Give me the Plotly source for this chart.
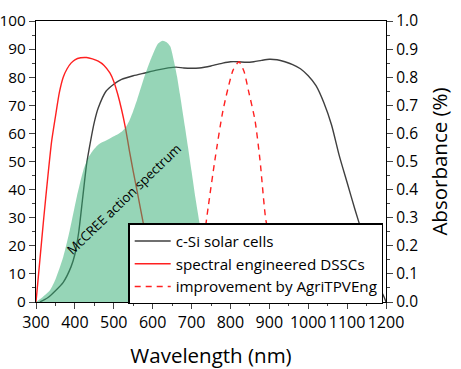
import plotly.graph_objects as go

# c-Si solar cells (black)
csi_wl = [310, 330, 350, 370, 390, 400, 410, 420, 430, 440, 450, 460, 480, 500, 520, 550, 580, 610,
          640, 660, 680, 700, 720, 750, 780, 800, 820, 840, 860, 880, 900, 920, 940, 960, 980, 1000,
          1020, 1040, 1060, 1080, 1100, 1120, 1140, 1160, 1180, 1195, 1200]
csi_val = [0, 1.5, 4, 7, 12.5, 17, 25, 37, 49, 57, 64, 69, 75, 77.5, 79.2, 80.5, 81.5, 82.5,
           83.3, 83.6, 83.3, 83.2, 83.3, 84, 85, 85.5, 85.5, 85.3, 85.5, 86, 86.4, 86.2, 85.5, 84.5, 83, 80.5,
           77, 71, 63, 52, 42.5, 33, 24, 14.5, 6, 1.8, 0]

# spectral engineered DSSCs (red solid)
dssc_wl = [300, 310, 320, 330, 340, 350, 360, 370, 380, 390, 400, 415, 430, 445, 460, 475, 490, 500,
           510, 520, 530, 540, 550, 560, 576, 590, 600, 620, 640, 660, 680, 720]
dssc_val = [0, 15, 30, 44, 57, 66, 74.5, 80, 83, 85, 86.2, 86.9, 87, 86.5, 85.7, 84.2, 81.5, 78.5,
            74, 68.5, 62, 54, 46.5, 39.5, 28, 19, 14, 7.5, 3.5, 1, 0.3, 0]

# improvement by AgriTPVEng (red dashed)
agri_wl = [710, 720, 730, 743, 760, 781, 807, 822, 835, 846, 863, 876, 891, 900, 920, 935, 948]
agri_val = [0, 10, 20.5, 34, 50.5, 68.3, 82.6, 85.5, 82, 75.4, 64.8, 50.5, 29.2, 24, 13, 5, 0]

# McCREE action spectrum (green area)
mccree_wl = [300, 315, 336, 350, 370, 387, 405, 422, 435, 447, 460, 473, 490, 505, 520, 530, 540, 550,
             560, 576, 590, 600, 614, 626, 635, 645, 655, 663, 670, 683, 691, 700, 710, 720, 730, 740, 748]
mccree_val = [0, 1.5, 4.2, 8, 16, 25.6, 37.5, 47, 51.5, 54, 56, 57, 58.2, 59.3, 60.6, 62, 64.5, 68,
              72, 79, 84.5, 88, 92, 93, 92.5, 91, 85.5, 80, 74, 62.4, 55, 46.5, 37, 28.5, 18.5, 8, 0]

x_ticks = [300, 400, 500, 600, 700, 800, 900, 1000, 1100, 1200]

FONT = "Open Sans"
SM = 0.6

fig = go.Figure()
fig.add_trace(go.Scatter(x=csi_wl, y=csi_val, mode="lines", name="c-Si solar cells",
                         line=dict(color="#3f3f3f", width=1.4, shape="spline", smoothing=SM)))
fig.add_trace(go.Scatter(x=dssc_wl, y=dssc_val, mode="lines", name="spectral engineered DSSCs",
                         line=dict(color="#ff2020", width=1.4, shape="spline", smoothing=SM)))
fig.add_trace(go.Scatter(x=mccree_wl, y=mccree_val, mode="lines", fill="tozeroy",
                         fillcolor="rgba(45,171,111,0.5)",
                         line=dict(width=0, shape="spline", smoothing=SM), showlegend=False,
                         hoverinfo="skip"))
fig.add_trace(go.Scatter(x=agri_wl, y=agri_val, mode="lines", name="improvement by AgriTPVEng",
                         line=dict(color="#ff2020", width=1.4, dash="6px,5px", shape="spline",
                                   smoothing=SM)))
# right axis carrier
fig.add_trace(go.Scatter(x=[300], y=[0], yaxis="y2", mode="markers", marker=dict(opacity=0),
                         showlegend=False, hoverinfo="skip"))

fig.add_annotation(x=526, y=36.5, text="McCREE action spectrum", showarrow=False, textangle=-44,
                   font=dict(family=FONT, size=13.2, color="black"))

fig.update_layout(
    width=461, height=369,
    margin=dict(l=36, r=75, t=21, b=67, autoexpand=False),
    plot_bgcolor="white", paper_bgcolor="white",
    font=dict(family=FONT, size=15, color="black"),
    showlegend=True,
    legend=dict(x=0.264, y=-0.008, xanchor="left", yanchor="bottom",
                bgcolor="white", bordercolor="black", borderwidth=1.3,
                font=dict(family=FONT, size=15.2, color="black"),
                itemwidth=36, tracegroupgap=0),
    xaxis=dict(range=[300, 1200], tickvals=x_ticks, ticks="outside", ticklen=6, tickwidth=1.2,
               showline=True, linecolor="black", linewidth=1.3, mirror=True, showgrid=False,
               zeroline=False, tickfont=dict(size=16), tickangle=0, automargin=True,
               minor=dict(dtick=50, ticks="outside", ticklen=3, tickwidth=1.2),
               title=dict(text="Wavelength (nm)", font=dict(size=20.5), standoff=20)),
    yaxis=dict(range=[0, 100], dtick=10, ticks="outside", ticklen=6, tickwidth=1.2,
               showline=True, linecolor="black", linewidth=1.3, showgrid=False, zeroline=False,
               tickfont=dict(size=15.3), automargin=False,
               minor=dict(dtick=5, ticks="outside", ticklen=3, tickwidth=1.2)),
    yaxis2=dict(range=[0, 1], dtick=0.1, tickformat=".1f", overlaying="y", side="right",
                ticks="outside", ticklen=6, tickwidth=1.2, automargin=False,
                showline=True, linecolor="black", linewidth=1.3, showgrid=False, zeroline=False,
                tickfont=dict(size=15.5),
                minor=dict(dtick=0.05, ticks="outside", ticklen=3, tickwidth=1.2),
                title=dict(text="Absorbance (%)", font=dict(size=20.5))),
)

fig.write_html("out.html", config={"displayModeBar": False},
               post_script="document.body.style.margin='0';")
